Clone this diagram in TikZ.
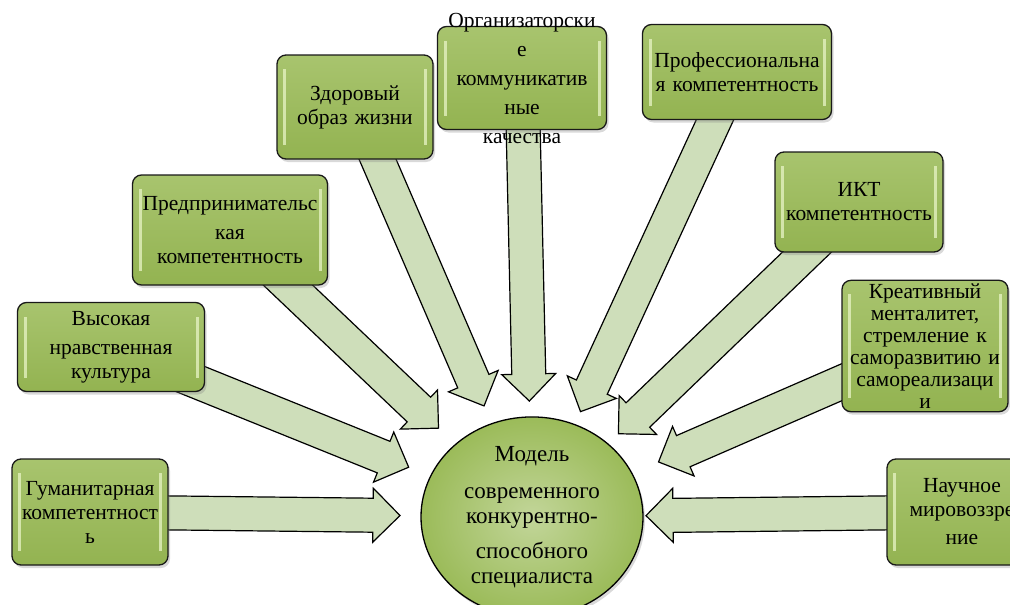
\documentclass[tikz,border=0pt]{standalone}
\usepackage{fontspec}
\setmainfont{Liberation Serif}
\newfontfamily\kompfont{Liberation Serif}
\usetikzlibrary{calc,shapes,shadows,backgrounds}

\definecolor{olivegreen}{HTML}{9BBB59}
\definecolor{olivelight}{HTML}{A8C46E}
\definecolor{olivedark}{HTML}{93B351}
\definecolor{glint}{HTML}{E8F4C6}
\definecolor{strelkafill}{HTML}{CEDEBA}

\tikzset{
  komp/.style 2 args={draw=black!90, line width=1.3pt, rounded corners=9pt,
    top color=olivelight, bottom color=olivedark,
    drop shadow={opacity=.3, shadow xshift=2pt, shadow yshift=-3pt},
    text width=#1, minimum height=#2, inner xsep=0pt, align=center,
    font=\kompfont\fontsize{21.5}{24}\selectfont,
    path picture={
      \fill[glint, draw=none, sharp corners, opacity=.75] ([xshift=6pt,yshift=14pt]path picture bounding box.south west) rectangle ([xshift=9pt,yshift=-14pt]path picture bounding box.north west);
      \fill[glint, draw=none, sharp corners, opacity=.75] ([xshift=-9pt,yshift=14pt]path picture bounding box.south east) rectangle ([xshift=-6pt,yshift=-14pt]path picture bounding box.north east);
    }},
  strelka/.style={draw=black, line width=1.2pt, fill=strelkafill, line join=miter},
  model/.style={ellipse, draw=black, line width=1.3pt,
    inner color=olivelight!70!white, outer color=olivegreen,
    drop shadow={opacity=.3, shadow xshift=2pt, shadow yshift=-3pt},
    minimum width=222pt, minimum height=164pt, inner sep=0pt, align=center,
    font=\kompfont\fontsize{23}{25}\selectfont}
}

% block arrow from a box towards the model, tip at distance #2 from its centre
\newcommand{\strelka}[2]{%
  \coordinate (#1-tip) at ($(model.center)!#2!(#1.center)$);
  \coordinate (#1-base) at ($(#1-tip)!27pt!(#1.center)$);
  \draw[strelka] ($(#1.center)!17pt!90:(#1-tip)$) -- ($(#1-base)!17pt!90:(#1-tip)$)
    -- ($(#1-base)!27pt!90:(#1-tip)$) -- (#1-tip) -- ($(#1-base)!27pt!-90:(#1-tip)$)
    -- ($(#1-base)!17pt!-90:(#1-tip)$) -- ($(#1.center)!17pt!-90:(#1-tip)$) -- cycle;
}

\begin{document}
\begin{tikzpicture}[x=1pt, y=-1pt]
  \useasboundingbox (0,0) rectangle (1010,605);
  \clip (0,0) rectangle (1010,605);

  \node [model] (model) at (532,517)
    {Модель\\[12pt]современного\\конкурентно-\\[10pt]способного\\специалиста};

  \node [komp={156pt}{106pt}] (gum) at (90,512) {Гуманитарная\\компетентност\\ь};
  \node [komp={187pt}{89pt}] (vys) at (111,347) {Высокая\\[5pt]нравственная\\культура};
  \node [komp={195pt}{110pt}] (pred) at (230,230) {Предпринимательс\\[5pt]кая\\компетентность};
  \node [komp={156pt}{104pt}] (zdor) at (355,107) {Здоровый\\образ жизни};
  \node [komp={169pt}{103pt}, label={[align=center, font=\kompfont\fontsize{21.5}{29}\selectfont]center:{Организаторски\\е\\коммуникатив\\ные\\качества}}] (org) at (522,78) {};
  \node [komp={189pt}{95pt}] (prof) at (737,72) {Профессиональна\\я компетентность};
  \node [komp={168pt}{100pt}] (ikt) at (859,202) {ИКТ\\компетентность};
  \node [komp={166pt}{128pt}, font=\kompfont\fontsize{21.5}{22}\selectfont] (krea) at (925,346)
    {Креативный\\менталитет,\\стремление к\\саморазвитию и\\самореализаци\\и};
  \node [komp={150pt}{106pt}] (nauch) at (962,512) {Научное\\мировоззре\\[4pt]ние};

  \begin{scope}[on background layer]
    \strelka{gum}{132pt}
    \strelka{vys}{133pt}
    \strelka{pred}{129pt}
    \strelka{zdor}{121pt}
    \strelka{org}{116pt}
    \strelka{prof}{116pt}
    \strelka{ikt}{120pt}
    \strelka{krea}{138pt}
    \strelka{nauch}{114pt}
  \end{scope}
\end{tikzpicture}
\end{document}
